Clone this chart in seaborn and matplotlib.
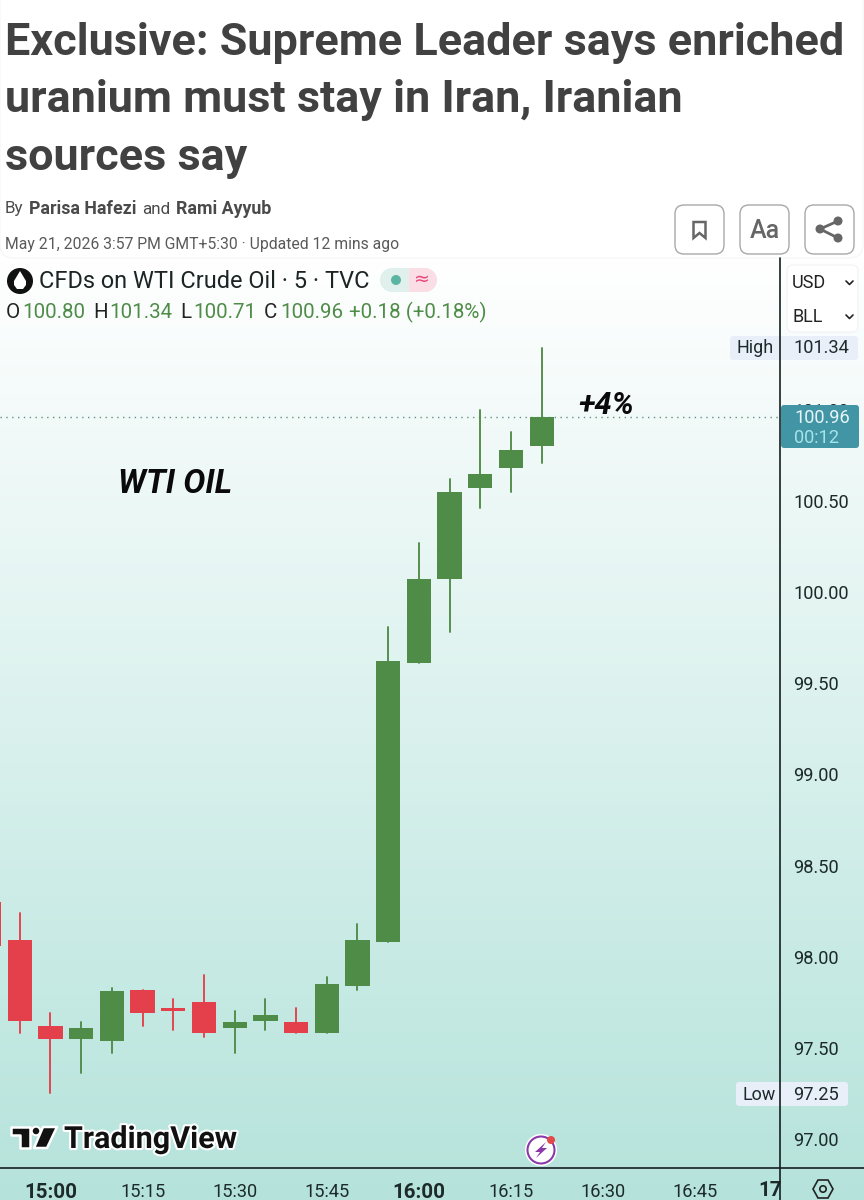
import matplotlib
matplotlib.use("Agg")
import matplotlib.patheffects as pe
import matplotlib.pyplot as plt
import numpy as np
import pandas as pd
import seaborn as sns
from matplotlib.patches import Circle, FancyBboxPatch, Polygon, Rectangle

# 5 minute candles
times = ["14:50", "14:55", "15:00", "15:05", "15:10", "15:15", "15:20", "15:25", "15:30", "15:35",
         "15:40", "15:45", "15:50", "15:55", "16:00", "16:05", "16:10", "16:15", "16:20"]
opens = [98.30, 98.09, 97.62, 97.55, 97.54, 97.82, 97.72, 97.75, 97.61, 97.65,
         97.64, 97.58, 97.84, 98.08, 99.61, 100.07, 100.57, 100.68, 100.80]
closes = [98.06, 97.65, 97.55, 97.61, 97.81, 97.69, 97.70, 97.58, 97.64, 97.68,
          97.58, 97.85, 98.09, 99.62, 100.07, 100.55, 100.65, 100.78, 100.96]
highs = [98.30, 98.24, 97.69, 97.64, 97.83, 97.82, 97.77, 97.90, 97.70, 97.77,
         97.72, 97.89, 98.18, 99.81, 100.27, 100.62, 101.00, 100.88, 101.34]
lows = [98.06, 97.58, 97.25, 97.36, 97.47, 97.62, 97.60, 97.56, 97.47, 97.60,
        97.58, 97.58, 97.82, 98.08, 99.61, 99.78, 100.46, 100.55, 100.71]

price_ticks = [97.00, 97.50, 98.00, 98.50, 99.00, 99.50, 100.00, 100.50, 101.00]
time_ticks = ["15:00", "15:15", "15:30", "15:45", "16:00", "16:15", "16:30", "16:45"]

GREEN = "#4f8c48"
RED = "#e4404c"
INK = "#1c2a2a"
W, H = 864, 1200


def minutes(s):
    h, m = s.split(":")
    return int(h) * 60 + int(m)


def fs(px):
    return px * 0.72


sns.set_theme(style="white")
plt.rcParams["font.family"] = ["Roboto", "DejaVu Sans"]

df = pd.DataFrame({"t": [minutes(s) for s in times], "open": opens, "close": closes,
                   "high": highs, "low": lows})
df["dir"] = np.where(df["close"] >= df["open"], "up", "down")
df["body"] = (df["close"] - df["open"]).abs()
df["base"] = df[["open", "close"]].min(axis=1)

fig = plt.figure(figsize=(8.64, 12), dpi=100)

# background layer, pixel coordinates
bg = fig.add_axes([0, 0, 1, 1], zorder=0)
grad = np.linspace(0, 1, 256).reshape(-1, 1, 1)
top = np.array([1.0, 1.0, 1.0])
bottom = np.array([0.71, 0.89, 0.86])
bg.imshow(top + (bottom - top) * grad, extent=[0, W, 1200, 258], aspect="auto", zorder=0)
bg.set_xlim(0, W)
bg.set_ylim(H, 0)
bg.axis("off")

# candles
ax = fig.add_axes([0, (H - 1168) / H, 780 / W, (1168 - 258) / H], zorder=1)
ax.patch.set_alpha(0)
wicks = pd.concat([df[["t", "dir"]].assign(price=df["low"]), df[["t", "dir"]].assign(price=df["high"])])
sns.lineplot(data=wicks, x="t", y="price", hue="dir", units="t", estimator=None,
             palette={"up": GREEN, "down": RED}, linewidth=1.35, legend=False, ax=ax)
for d, col in [("up", GREEN), ("down", RED)]:
    sub = df[df["dir"] == d]
    sns.barplot(data=sub, x="t", y="body", bottom=sub["base"].values, native_scale=True,
                color=col, saturation=1, width=0.79, errorbar=None, linewidth=0, ax=ax, zorder=3)

ax.axhline(closes[-1], color="#5f8f8c", linewidth=1, linestyle=(0, (1, 3.2)), zorder=1)
ax.set_xlim(891.78, 1018.81)
ax.set_ylim(96.841, 101.833)
ax.set_xlabel("")
ax.set_ylabel("")
for s in ax.spines.values():
    s.set_visible(False)
ax.yaxis.tick_right()
ax.set_yticks(price_ticks, [f"{v:.2f}" for v in price_ticks])
ax.tick_params(axis="y", length=0, pad=9.5, labelsize=fs(18.3), labelcolor=INK)
ax.set_xticks([minutes(s) for s in time_ticks], time_ticks)
ax.tick_params(axis="x", length=0, pad=11, labelsize=fs(18.3), labelcolor=INK)
for lab in ax.get_xticklabels():
    if lab.get_text().endswith(":00"):
        lab.set_fontweight("bold")
        lab.set_fontsize(fs(20.5))

# everything around the chart, pixel coordinates
fg = fig.add_axes([0, 0, 1, 1], zorder=2)
fg.patch.set_alpha(0)
fg.set_xlim(0, W)
fg.set_ylim(H, 0)
fg.axis("off")

fg.add_patch(FancyBboxPatch((0, -30), W - 1, 288, boxstyle="round,pad=0,rounding_size=14",
                            fc="white", ec="#f5f5f5", lw=0.8, zorder=1))

# headline
title_lines = ["Exclusive: Supreme Leader says enriched", "uranium must stay in Iran, Iranian", "sources say"]
for line, y in zip(title_lines, [43, 100, 158]):
    fg.text(5, y, line, fontsize=fs(45), fontweight="bold", color="#414141", va="center", zorder=2)

# byline
for x, txt, wt, px in [(5, "By", "normal", 17), (29, "Parisa Hafezi", "bold", 17.8),
                       (142, "and", "normal", 17), (176, "Rami Ayyub", "bold", 17.8)]:
    fg.text(x, 209, txt, fontsize=fs(px), fontweight=wt, color="#4a4a4a", va="center", zorder=2)
fg.text(5, 244, "May 21, 2026 3:57 PM GMT+5:30 \u00b7 Updated 12 mins ago", fontsize=fs(15.7), color="#5a5a5a",
        va="center", zorder=2)

# toolbar buttons
for x in [675, 740, 805]:
    fg.add_patch(FancyBboxPatch((x + 6, 211), 37, 37, boxstyle="round,pad=6,rounding_size=9",
                                fc="white", ec="#a8a8a8", lw=1, zorder=2))
fg.add_patch(Polygon([(693.5, 222), (705.5, 222), (705.5, 238), (699.5, 233), (693.5, 238)], closed=True,
                     fc="white", ec="#666666", lw=1.8, zorder=3))
fg.text(765, 231, "Aa", fontsize=fs(25), fontweight="medium", color="#666666", ha="center", va="center", zorder=3)
fg.plot([838, 820, 838], [221, 229, 238], color="#666666", lw=2, zorder=3)
for cx, cy in [(838, 221), (820, 229), (838, 238)]:
    fg.add_patch(Circle((cx, cy), 4.5, fc="#666666", ec="none", zorder=4))

# symbol row
fg.add_patch(Circle((20, 281), 13, fc="#111111", ec="none", zorder=3))
fg.add_patch(Polygon([(20, 271), (26, 281), (26, 285), (23, 289), (17, 289), (14, 285), (14, 281)],
                     closed=True, fc="white", ec="none", zorder=4))
fg.text(39, 281, "CFDs on WTI Crude Oil \u00b7 5 \u00b7 TVC", fontsize=fs(23.5), color="#1c2424", va="center", zorder=3)
fg.add_patch(Circle((392, 280), 12, fc="#e0f1ed", ec="none", zorder=2))
fg.add_patch(Rectangle((392, 268), 17, 24, fc="#e0f1ed", ec="none", zorder=2))
fg.add_patch(Rectangle((409, 268), 16, 24, fc="#fbdde6", ec="none", zorder=2))
fg.add_patch(Circle((425, 280), 12, fc="#fbdde6", ec="none", zorder=2))
fg.add_patch(Circle((396, 280), 5, fc="#5cb5a2", ec="none", zorder=3))
fg.text(422, 279, "\u2248", fontsize=fs(19), color="#e8477c", ha="center", va="center", family="DejaVu Sans", zorder=3)

for x, txt, col in [(6, "O", "#222222"), (22, "100.80", GREEN), (93, "H", "#222222"), (109, "101.34", GREEN),
                    (180, "L", "#222222"), (193, "100.71", GREEN), (264, "C", "#222222"), (280, "100.96", GREEN),
                    (349, "+0.18 (+0.18%)", GREEN)]:
    fg.text(x, 312, txt, fontsize=fs(20.5), color=col, va="center", zorder=3)

# annotations
fg.text(118, 484, "WTI OIL", fontsize=fs(33), fontweight="bold", fontstyle="italic", color="#0a0a0a", va="center", zorder=3)
fg.text(578, 406, "+4%", fontsize=fs(31), fontweight="bold", fontstyle="italic", color="#0a0a0a", va="center", zorder=3)

# currency / unit selectors
fg.add_patch(FancyBboxPatch((787, 265), 71, 67, boxstyle="round,pad=0,rounding_size=6", fc="white", ec="#f0f3f3", lw=0.8, zorder=2))
for y, txt in [(283, "USD"), (317, "BLL")]:
    fg.text(792, y, txt, fontsize=fs(18), color="#222222", va="center", zorder=3)
    fg.plot([846, 849.5, 853], [y - 2, y + 1.5, y - 2], color="#222222", lw=1.2, zorder=3)

# high / low / last price tags
for x0, x1, y0, y1 in [(730, 858, 336, 360), (736, 848, 1082, 1106)]:
    fg.add_patch(FancyBboxPatch((x0, y0), x1 - x0, y1 - y0, boxstyle="round,pad=0,rounding_size=3", fc="#e8eff9", ec="none", zorder=2))
fg.text(737, 348, "High", fontsize=fs(18), color=INK, va="center", zorder=3)
fg.text(793, 348, "101.34", fontsize=fs(18.3), color=INK, va="center", zorder=3)
fg.text(742, 1095, "Low", fontsize=fs(18), color=INK, va="center", zorder=3)
fg.text(793, 1095, "97.25", fontsize=fs(18.3), color=INK, va="center", zorder=3)
fg.add_patch(FancyBboxPatch((781, 405), 78, 43, boxstyle="round,pad=0,rounding_size=3", fc="#4295a5", ec="none", zorder=2))
fg.text(794, 418, "100.96", fontsize=fs(18.3), color="#e6f6f8", va="center", zorder=3)
fg.text(794, 438, "00:12", fontsize=fs(18.3), color="#a5e2ea", va="center", zorder=3)

# axis frame
fg.plot([780, 780], [258, 1200], color="#15201f", lw=1.2, zorder=5)
fg.plot([0, W], [1168, 1168], color="#15201f", lw=1.2, zorder=5)
fg.text(782, 1190, "17", fontsize=fs(20.5), fontweight="bold", color=INK, ha="right", va="center", zorder=4)
fg.add_patch(Polygon([(813, 1189), (818, 1180), (828, 1180), (833, 1189), (828, 1198), (818, 1198)], closed=True,
                     fc="none", ec="#222222", lw=1.2, zorder=4))
fg.add_patch(Circle((823, 1189), 3.2, fc="none", ec="#222222", lw=1.2, zorder=4))

# TradingView logo
for shape in [[(11, 1127), (30, 1127), (30, 1148), (20, 1148), (20, 1135), (11, 1135)],
              [(43, 1127), (57, 1127), (47, 1148), (34, 1148)]]:
    fg.add_patch(Polygon(shape, closed=True, fc="#111111", ec="white", lw=1.8, zorder=3, joinstyle="round"))
fg.add_patch(Circle((36, 1131), 4.3, fc="#111111", ec="white", lw=1.5, zorder=3))
logo = fg.text(64, 1140, "TradingView", fontsize=fs(30.5), fontweight="bold", color="#111111", va="center", zorder=3)
logo.set_path_effects([pe.withStroke(linewidth=3, foreground="white")])

# lightning badge
fg.add_patch(Circle((541, 1150), 16, fc="white", ec="none", zorder=3))
fg.add_patch(Circle((541, 1150), 13.5, fc="none", ec="#8a3aa8", lw=1.5, zorder=4))
fg.add_patch(Polygon([(546, 1142), (535, 1152), (540, 1152), (536, 1158), (547, 1148), (542, 1148)], closed=True,
                     fc="#8a3aa8", ec="none", zorder=4))
fg.add_patch(Circle((551, 1140), 4, fc="#e24a4a", ec="none", zorder=5))

fig.savefig("out.png", dpi=100)
